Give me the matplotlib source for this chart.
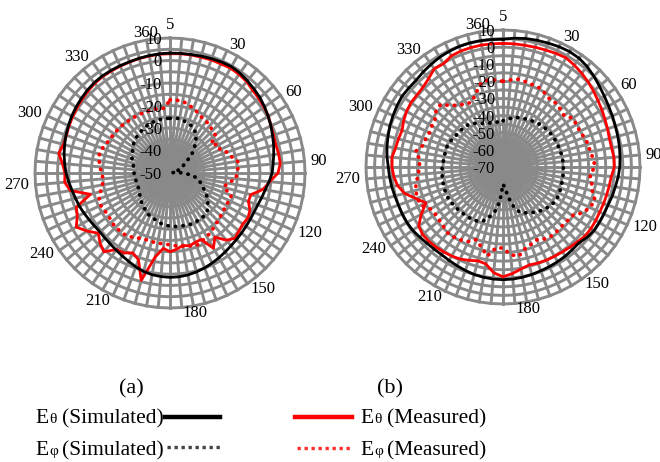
import numpy as np
import matplotlib
matplotlib.use("Agg")
import matplotlib.pyplot as plt

plt.rcParams['font.family'] = ['Liberation Serif', 'DejaVu Serif']

# categories (degrees) - excel radar, first category at top
categories = list(range(5, 365, 5))
angle_labels = [5, 30, 60, 90, 120, 150, 180, 210, 240, 270, 300, 330, 360]

# ---- chart (a), dB ----
a_etheta_sim = [3.3, 3.4, 3.5, 3.8, 4.1, 4.4, 4.6, 4.2, 3.5, 2.8, 2.2, 1.3,
                0.4, -0.5, -1.5, -2.3, -3.2, -4.0, -4.6, -5.8, -7.0, -7.8, -8.5, -8.8,
                -8.8, -8.7, -8.5, -8.2, -7.8, -7.2, -6.5, -5.8, -5.1, -4.5, -4.0, -3.7,
                -3.6, -3.8, -4.1, -4.7, -5.6, -6.6, -7.5, -8.2, -8.8, -9.1, -9.3, -9.0,
                -8.5, -7.8, -7.1, -6.5, -5.8, -4.8, -3.8, -3.0, -2.2, -1.5, -0.8, -0.2,
                0.5, 1.0, 1.5, 2.0, 2.4, 2.6, 2.6, 2.6, 2.6, 2.8, 3.0, 3.2]
a_etheta_meas = [3.0, 3.2, 3.3, 3.3, 3.5, 3.5, 3.8, 3.5, 3.0, 2.0, 1.5, 1.0,
                 0.5, -0.5, -1.0, -1.3, -1.0, -0.8, -2.0, -5.5, -8.0, -12.8, -12.9, -10.8,
                 -10.0, -10.5, -10.0, -9.0, -11.0, -15.2, -11.4, -17.4, -17.2, -16.5, -17.3, -16.0,
                 -15.0, -16.4, -12.1, -0.6, -9.0, -10.8, -9.0, -8.5, -4.3, -6.0, -8.4, -5.0,
                 -1.9, -4.5, -5.7, -13.4, -5.0, -3.0, -3.3, -2.0, 0.2, -1.0, -1.0, -0.5,
                 0.0, 0.5, 1.0, 1.5, 2.0, 2.3, 2.3, 2.4, 2.5, 2.7, 2.8, 3.0]
a_ephi_sim = [-25.7, -25.5, -25.5, -26.0, -26.5, -27.0, -28.0, -30.0, -32.0, -35.0, -37.5, -41.0,
              -43.0, -44.0, -45.0, -48.0, -49.0, -47.0, -44.0, -41.0, -38.0, -36.5, -35.0, -33.5,
              -31.5, -29.5, -28.0, -26.5, -25.8, -25.5, -25.5, -25.5, -25.5, -25.8, -26.0, -26.1,
              -26.3, -26.8, -27.2, -28.0, -28.5, -29.0, -29.3, -30.5, -31.0, -32.0, -33.0, -33.5,
              -34.0, -34.5, -34.5, -34.5, -34.5, -34.2, -34.0, -33.8, -33.5, -33.0, -32.0, -31.5,
              -30.8, -30.0, -29.0, -28.3, -28.0, -27.5, -27.0, -26.5, -26.2, -26.0, -25.8, -25.7]
a_ephi_meas = [-17.5, -17.5, -17.6, -18.5, -19.5, -20.5, -21.6, -22.0, -22.3, -23.5, -23.7, -27.7,
               -25.0, -25.5, -23.0, -21.8, -19.5, -19.5, -20.4, -20.5, -24.0, -25.3, -21.0, -20.8,
               -21.5, -20.9, -20.5, -19.8, -19.3, -18.0, -17.4, -16.5, -15.6, -16.5, -17.0, -17.5,
               -18.0, -18.5, -18.2, -18.5, -18.5, -18.0, -17.0, -16.0, -16.0, -15.8, -16.2, -16.7,
               -16.5, -16.0, -16.5, -18.0, -19.5, -20.2, -19.5, -18.8, -18.0, -17.5, -18.0, -18.9,
               -19.3, -19.6, -19.8, -20.0, -20.3, -20.5, -20.6, -20.7, -20.8, -20.8, -21.0, -21.1]
a_rticks = [10, 0, -10, -20, -30, -40, -50]

# ---- chart (b), dB ----
b_etheta_sim = [4.6, 5.5, 6.2, 6.6, 7.0, 7.5, 7.8, 7.5, 6.5, 5.0, 3.5, 2.2,
                1.2, 0.5, -0.2, -0.6, -1.0, -1.4, -1.8, -2.5, -3.4, -4.0, -4.8, -5.0,
                -5.1, -5.2, -6.0, -7.3, -7.0, -6.5, -6.2, -5.8, -5.5, -5.0, -4.6, -4.3,
                -4.2, -4.3, -4.6, -5.0, -5.7, -6.4, -7.0, -7.5, -7.4, -7.1, -6.4, -5.6,
                -5.2, -5.1, -5.0, -4.6, -4.0, -3.5, -3.0, -2.0, -1.2, -0.5, 0.3, 0.9,
                1.5, 2.0, 1.8, 1.7, 2.5, 3.2, 4.0, 4.5, 4.9, 5.0, 4.9, 4.7]
b_etheta_meas = [2.2, 2.2, 2.2, 2.4, 2.7, 3.2, 3.6, 2.6, 1.5, 0.3, -1.0, -2.3,
                 -3.3, -4.3, -5.0, -5.7, -5.6, -5.0, -5.0, -6.5, -7.0, -7.3, -7.5, -7.7,
                 -7.5, -7.3, -7.4, -8.3, -9.0, -9.5, -9.8, -10.0, -10.3, -10.8, -9.5, -7.5,
                 -5.9, -8.0, -12.5, -13.3, -12.0, -10.7, -10.0, -9.5, -9.0, -8.7, -8.7, -9.9,
                 -14.9, -20.3, -16.0, -10.5, -7.5, -6.0, -5.2, -4.9, -6.3, -6.8, -7.3, -6.0,
                 -5.0, -4.4, -4.5, -4.0, -2.5, 0.0, -0.4, 1.5, 2.1, 2.2, 2.3, 2.2]
b_ephi_sim = [-43.0, -42.0, -41.0, -40.0, -39.5, -39.0, -38.5, -37.8, -37.2, -36.7, -36.3, -36.0,
              -35.8, -35.6, -35.5, -35.2, -35.0, -34.8, -34.8, -34.6, -34.5, -34.4, -34.2, -33.6,
              -33.5, -33.8, -34.2, -35.5, -36.5, -37.8, -39.0, -40.5, -42.0, -46.0, -52.0, -58.0,
              -60.0, -50.0, -44.0, -40.0, -36.5, -35.0, -34.5, -34.3, -34.2, -34.0, -33.6, -33.4,
              -33.2, -33.3, -33.5, -33.8, -34.0, -34.2, -34.5, -35.0, -35.2, -35.2, -35.2, -35.6,
              -36.5, -37.0, -37.3, -37.6, -38.0, -39.0, -40.5, -42.0, -43.0, -43.3, -43.5, -43.5]
b_ephi_meas = [-20.0, -19.0, -18.0, -18.5, -19.0, -19.2, -20.5, -22.0, -21.5, -22.5, -23.4, -20.3,
               -20.5, -20.5, -19.5, -18.5, -18.3, -17.0, -16.3, -19.1, -17.5, -16.0, -12.8, -14.0,
               -16.4, -20.6, -21.0, -21.3, -21.0, -20.8, -21.5, -23.1, -22.0, -20.5, -17.1, -18.6,
               -22.7, -22.6, -17.2, -21.3, -24.9, -22.0, -20.8, -20.0, -19.8, -20.9, -21.5, -21.8,
               -21.0, -17.2, -16.8, -17.2, -18.5, -20.4, -21.0, -21.4, -18.1, -21.5, -22.0, -22.6,
               -22.0, -21.5, -19.0, -18.4, -23.2, -25.6, -27.7, -27.6, -24.0, -19.8, -18.5, -19.0]
b_rticks = [10, 0, -10, -20, -30, -40, -50, -60, -70]

GRID = '#898989'
W, H = 660, 462


def closed(v):
    return list(v) + [v[0]]


def radar(box, rmin, rmax, R, rticks, sim_t, sim_p, meas_t, meas_p):
    cx, cy = box
    ax = fig.add_axes([(cx - R) / W, 1 - (cy + R) / H, 2 * R / W, 2 * R / H],
                      projection='polar')
    ax.set_theta_zero_location('N')
    ax.set_theta_direction(-1)
    ax.set_ylim(rmin, rmax)
    ax.set_axis_off()

    th = np.deg2rad(np.array(categories) - 5)
    thc = closed(th)
    # polygon rings every 5 dB, spokes every category
    for r in np.arange(rmin + 5, rmax + 0.1, 5):
        ax.plot(thc, [r] * len(thc), color=GRID, lw=2.1, zorder=1, clip_on=False)
    for t in th:
        ax.plot([t, t], [rmin, rmax], color=GRID, lw=2.1, zorder=1, clip_on=False)

    dots = dict(lw=2.7, linestyle=(0, (0.1, 1.9)), dash_capstyle='round', zorder=3, clip_on=False)
    ax.plot(thc, closed(meas_p), color='#ff0000', **dots)
    ax.plot(thc, closed(sim_p), color='black', **dots)
    ax.plot(thc, closed(meas_t), color='#ff0000', lw=2.0, zorder=3, clip_on=False)
    ax.plot(thc, closed(sim_t), color='black', lw=2.0, zorder=4, clip_on=False)

    for v in rticks:
        ax.annotate(str(v), xy=(0, v), xytext=(-8, -2), textcoords='offset pixels',
                    ha='right', va='center', fontsize=12, zorder=5)

    # category labels just outside the outer ring, excel-like anchoring
    for c in angle_labels:
        a = np.deg2rad(c - 5)
        w = 8.3 * len(str(c))
        x = cx + (R + 6) * np.sin(a)
        y = cy - (R + 6) * np.cos(a)
        if abs(np.sin(a)) < 0.01:
            y -= 7
        else:
            x += np.sign(np.sin(a)) * w / 2
        lg.text(x, y, str(c), ha='center', va='center', fontsize=12)
    return ax


fig = plt.figure(figsize=(6.6, 4.62), dpi=100)

# overlay in pixel coords for captions, legend and category labels
lg = fig.add_axes([0, 0, 1, 1])
lg.set_xlim(0, W)
lg.set_ylim(H, 0)
lg.axis('off')
lg.set_zorder(10)

radar((170, 173), -50, 10, 135, a_rticks, a_etheta_sim, a_ephi_sim, a_etheta_meas, a_ephi_meas)
radar((503, 167), -70, 10, 137, b_rticks, b_etheta_sim, b_ephi_sim, b_etheta_meas, b_ephi_meas)

lg.text(131, 393, '(a)', fontsize=16, ha='center', va='baseline')
lg.text(390, 393, '(b)', fontsize=16, ha='center', va='baseline')


def entry(x, y, sym, txt):
    lg.text(x, y, 'E', fontsize=15.5, va='baseline')
    lg.text(x + 14, y, sym, fontsize=11, va='baseline')
    lg.text(x + 27, y, txt, fontsize=15.5, va='baseline')


entry(35, 423, 'θ', '(Simulated)')
entry(35, 455, 'φ', '(Simulated)')
entry(360, 423, 'θ', '(Measured)')
entry(360, 455, 'φ', '(Measured)')

lg.plot([165, 220], [417, 417], color='black', lw=3.2)
lg.plot([167, 220], [447, 447], color='#444444', lw=2.4, linestyle=(0, (1, 1.1)))
lg.plot([295, 352], [417, 417], color='#ff0000', lw=3.2)
lg.plot([297, 352], [448, 448], color='#ff3030', lw=2.4, linestyle=(0, (1, 1.1)))

fig.savefig('out.png', dpi=100)
